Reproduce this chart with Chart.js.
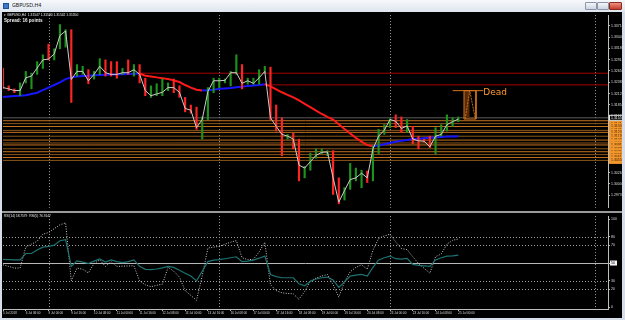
<!DOCTYPE html>
<html>
<head>
<meta charset="utf-8">
<title>GBPUSD,H4</title>
<script src="https://cdn.jsdelivr.net/npm/chart.js@4.4.1/dist/chart.umd.min.js"></script>
<style>
  body { margin:0; width:625px; height:320px; overflow:hidden; background:#d6dde8; position:relative; font-family:"DejaVu Sans", sans-serif; }
  #titlebar { position:absolute; left:0; top:0; width:625px; height:12px; background:linear-gradient(#f6f8fb,#dfe5ee); }
  #titlebar .icon { position:absolute; left:3px; top:3px; width:6px; height:6px; background:#3d78c8; border:1px solid #1f4f96; box-sizing:border-box; }
  #titlebar .name { position:absolute; left:12px; top:2px; font-size:10px; color:#202020; transform:scale(0.5); transform-origin:0 0; white-space:nowrap; }
  .btn { position:absolute; top:2px; height:8px; border:1px solid #8a96a8; box-sizing:border-box; background:linear-gradient(#f4f6f9,#cdd5e0); border-radius:1px; }
  #b1 { left:585px; width:12px; }
  #b2 { left:597px; width:12px; }
  #b3 { left:609px; width:13px; background:linear-gradient(#ee9282,#c43c2c); border-color:#8a2a20; }
  #main { position:absolute; left:2px; top:12px; width:620px; height:199px; background:#000; }
  #sep { position:absolute; left:2px; top:211px; width:620px; height:2px; background:#9a9a9a; }
  #rsi { position:absolute; left:2px; top:213px; width:620px; height:105px; background:#000; }
</style>
</head>
<body>
<div id="titlebar"><div class="icon"></div><div class="name">GBPUSD,H4</div>
  <div class="btn" id="b1"></div><div class="btn" id="b2"></div><div class="btn" id="b3"></div></div>
<div id="main"><canvas id="priceChart"></canvas></div>
<div id="sep"></div>
<div id="rsi"><canvas id="rsiChart"></canvas></div>
<script>
// H4 bars, 5 Jul 16:00 .. 25 Jul 00:00 (index 0..80)
var timeLabels = ['5 Jul 2018', '6 Jul 08:00', '9 Jul 00:00', '9 Jul 16:00', '10 Jul 08:00', '11 Jul 00:00',
  '11 Jul 16:00', '12 Jul 08:00', '13 Jul 00:00', '13 Jul 16:00', '16 Jul 08:00', '17 Jul 00:00',
  '17 Jul 16:00', '18 Jul 08:00', '19 Jul 00:00', '19 Jul 16:00', '20 Jul 08:00', '23 Jul 00:00',
  '23 Jul 16:00', '24 Jul 08:00', '25 Jul 00:00'];

var opens = [1.3250,1.3228,1.3222,1.3212,1.3240,1.3245,1.3258,1.3274,1.3310,1.3293,
  1.3320,1.3340,1.3358,1.3255,1.3259,1.3264,1.3248,1.3259,1.3278,1.3262,
  1.3262,1.3258,1.3270,1.3258,1.3268,1.3245,1.3204,1.3208,1.3210,1.3220,
  1.3235,1.3226,1.3200,1.3180,1.3175,1.3130,1.3152,1.3217,1.3238,1.3239,
  1.3243,1.3259,1.3261,1.3236,1.3235,1.3236,1.3261,1.3264,1.3155,1.3135,
  1.3108,1.3112,1.3104,1.3020,1.3037,1.3062,1.3072,1.3070,1.3075,1.3012,
  1.2965,1.2988,1.3010,1.3012,1.3025,1.3014,1.3082,1.3118,1.3133,1.3152,
  1.3148,1.3130,1.3134,1.3106,1.3103,1.3101,1.3088,1.3113,1.3125,1.3138,
  1.3147];
var highs = [1.3272,1.3230,1.3223,1.3237,1.3264,1.3260,1.3287,1.3303,1.3328,1.3317,
  1.3374,1.3362,1.3362,1.3280,1.3276,1.3268,1.3264,1.3294,1.3291,1.3287,
  1.3287,1.3271,1.3291,1.3280,1.3280,1.3248,1.3230,1.3235,1.3246,1.3237,
  1.3246,1.3230,1.3203,1.3185,1.3180,1.3157,1.3226,1.3248,1.3248,1.3246,
  1.3264,1.3303,1.3280,1.3248,1.3248,1.3268,1.3276,1.3274,1.3185,1.3155,
  1.3116,1.3119,1.3105,1.3041,1.3072,1.3082,1.3082,1.3078,1.3078,1.3014,
  1.2991,1.3048,1.3037,1.3032,1.3030,1.3089,1.3128,1.3139,1.3153,1.3162,
  1.3157,1.3151,1.3135,1.3112,1.3105,1.3112,1.3132,1.3139,1.3162,1.3155,
  1.3157];
var lows = [1.3224,1.3219,1.3214,1.3207,1.3237,1.3223,1.3257,1.3271,1.3291,1.3291,
  1.3317,1.3321,1.3191,1.3253,1.3257,1.3235,1.3246,1.3257,1.3253,1.3253,
  1.3248,1.3257,1.3257,1.3253,1.3237,1.3207,1.3203,1.3207,1.3207,1.3219,
  1.3214,1.3203,1.3169,1.3166,1.3128,1.3105,1.3151,1.3214,1.3226,1.3237,
  1.3230,1.3257,1.3223,1.3234,1.3234,1.3234,1.3260,1.3151,1.3124,1.3066,
  1.3105,1.3082,1.3007,1.3014,1.3032,1.3060,1.3071,1.3066,1.2975,1.2953,
  1.2962,1.2987,1.3007,1.2991,1.3003,1.3007,1.3071,1.3116,1.3132,1.3132,
  1.3121,1.3121,1.3094,1.3082,1.3098,1.3085,1.3071,1.3112,1.3124,1.3135,
  1.3146];
var closes = [1.3226,1.3223,1.3219,1.3219,1.3249,1.3253,1.3272,1.3291,1.3293,1.3305,
  1.3348,1.3359,1.3245,1.3264,1.3264,1.3242,1.3257,1.3276,1.3261,1.3257,
  1.3257,1.3261,1.3261,1.3268,1.3257,1.3219,1.3207,1.3211,1.3215,1.3226,
  1.3226,1.3215,1.3177,1.3173,1.3132,1.3151,1.3217,1.3242,1.3242,1.3243,
  1.3261,1.3261,1.3236,1.3242,1.3236,1.3249,1.3264,1.3155,1.3135,1.3116,
  1.3112,1.3105,1.3044,1.3037,1.3052,1.3067,1.3074,1.3075,1.3014,1.2957,
  1.2984,1.3010,1.3014,1.3025,1.3014,1.3082,1.3112,1.3126,1.3151,1.3147,
  1.3130,1.3136,1.3105,1.3101,1.3100,1.3087,1.3112,1.3116,1.3139,1.3146,
  1.3152];
var maValues = [1.3204,1.3205,1.3206,1.3207,1.3208,1.3211,1.3214,1.3220,1.3226,1.3232,
  1.3238,1.3246,1.3250,1.3252,1.3253,1.3254,1.3255,1.32555,1.3256,1.32565,
  1.3257,1.32575,1.3258,1.32585,1.3259,1.3254,1.3252,1.3250,1.3248,1.3246,
  1.3243,1.3239,1.3232,1.3226,1.3221,1.3219,1.3220,1.3221,1.3223,1.3224,
  1.3225,1.3227,1.3228,1.3230,1.3231,1.3232,1.3234,1.3229,1.3222,1.3215,
  1.3209,1.3203,1.3196,1.3188,1.3180,1.3172,1.3164,1.3157,1.3151,1.3140,
  1.3129,1.3118,1.3108,1.3099,1.3091,1.3088,1.3090,1.3093,1.3096,1.3099,
  1.3101,1.3103,1.3105,1.3106,1.3107,1.3108,1.3109,1.3110,1.3111,1.3111,
  1.3112];
var rsiSlow = [54.2,53.8,53.5,53.5,60.8,60.8,64.8,68.1,68.9,70.3,
  75.3,76.6,46.2,52.4,51.1,49.5,52.2,54.6,51.1,53.5,
  51.6,50.5,51.6,53.5,46.2,42.9,42.5,43.2,44.5,46.2,
  45.1,41.8,38.5,35.2,29.7,40.7,51.6,53.3,53.8,54.9,
  56.0,57.1,51.6,52.2,53.3,55.5,57.9,37.0,34.6,33.3,
  33.3,33.3,26.4,24.2,29.1,31.9,33.3,34.1,30.8,22.3,
  28.6,35.2,36.3,37.0,35.2,45.1,53.5,56.0,57.9,54.9,
  54.4,55.3,48.4,47.3,46.7,46.2,53.5,56.0,57.9,58.2,
  59.0];
var rsiFast = [48.0,46.2,44.3,44.3,68.1,71.4,74.7,82.7,84.6,89.0,
  93.4,95.6,29.7,44.3,42.9,38.8,49.5,53.5,46.2,51.6,
  46.2,46.4,46.7,46.9,29.7,25.3,23.1,24.7,26.0,45.1,
  40.7,34.1,18.7,13.2,7.7,35.2,67.0,68.1,68.9,71.4,
  73.6,75.5,56.0,53.8,54.2,62.6,73.6,25.3,18.7,16.2,
  15.4,15.1,8.8,17.6,29.7,33.0,35.2,37.0,25.3,11.3,
  28.6,40.1,45.1,48.0,42.9,64.5,78.0,80.8,82.7,74.0,
  66.5,65.2,57.1,49.5,44.0,38.5,57.1,60.4,71.4,75.8,
  77.3];

var priceTicks = [1.33710,1.33445,1.33180,1.32915,1.32650,1.32385,1.32120,1.31855,
  1.31590,1.31325,1.31060,1.30795,1.30530,1.30265,1.30000,1.29735];
var rsiTicks = [0, 20, 30, 50, 70, 80, 100];
var rsiLevels = [20, 30, 70, 80];
var weekSeps = [8, 38, 68, 104];

var orderLevels = [1.31482,1.31414,1.31346,1.31255,1.31209,1.31118,1.31027,
  1.30959,1.30913,1.30823,1.30754,1.30686,1.30618,1.30550];
var bidPrice = 1.31550;
var redLevels = [1.32597, 1.32324];
var redLevelStarts = [23.8, 45.4];

// "Dead" object, in bar index / price units
var deadTop = 1.32188, deadBottom = 1.31521;
var deadBox = [81.0, 83.1];
var deadShade = [81.0, 82.0];
var deadZig = [81.2, 82.0, 83.0];
var deadLine = [79.0, 84.4];

var xMax = 106.3;
var tickFont = { family: 'Liberation Sans', size: 3.5 };

function pts(arr) { return arr.map(function (v, i) { return { x: i, y: v }; }); }
function hline(y, x0, x1) { return [{ x: x0, y: y }, { x: x1, y: y }]; }

var weekSepPlugin = {
  id: 'weekSeps',
  beforeDatasetsDraw: function (chart) {
    var ctx = chart.ctx, a = chart.chartArea, x = chart.scales.x;
    ctx.save();
    ctx.strokeStyle = '#a0a0a0';
    ctx.lineWidth = 1;
    ctx.setLineDash([1, 2]);
    weekSeps.forEach(function (v) {
      var px = Math.round(x.getPixelForValue(v)) + 0.5;
      ctx.beginPath(); ctx.moveTo(px, a.top); ctx.lineTo(px, a.bottom); ctx.stroke();
    });
    ctx.restore();
  }
};

var mainDeco = {
  id: 'mainDeco',
  afterDraw: function (chart) {
    var ctx = chart.ctx, a = chart.chartArea, x = chart.scales.x, y = chart.scales.y;
    ctx.save();
    ctx.textAlign = 'left';
    ctx.textBaseline = 'middle';
    ctx.font = '3.5px "Liberation Sans"';
    orderLevels.forEach(function (p) {
      var py = y.getPixelForValue(p);
      ctx.fillStyle = '#f2972c';
      ctx.fillRect(a.right + 1, py - 3.5, 15, 7);
      ctx.fillStyle = '#3a1c00';
      ctx.fillText(p.toFixed(5), a.right + 3, py);
    });
    var by = y.getPixelForValue(bidPrice);
    ctx.fillStyle = '#000';
    ctx.fillRect(a.right + 1, by - 3, 15, 6);
    ctx.strokeStyle = '#e6e6e6';
    ctx.lineWidth = 1;
    ctx.strokeRect(a.right + 1.5, by - 2.5, 14, 5);
    ctx.fillStyle = '#fff';
    ctx.fillText(bidPrice.toFixed(5), a.right + 3, by);

    ctx.font = '9px "DejaVu Sans"';
    ctx.fillStyle = '#ff9a2e';
    ctx.fillText('Dead', x.getPixelForValue(deadLine[1]), y.getPixelForValue(deadTop) + 2);

    ctx.fillStyle = '#f0f0f0';
    ctx.textBaseline = 'top';
    ctx.font = '3.3px "Liberation Sans"';
    ctx.fillText('\u25BE GBPUSD,H4  1.31547 1.31580 1.31542 1.31550', a.left + 1, 1);
    ctx.font = 'bold 4.6px "Liberation Sans"';
    ctx.fillText('Spread: 16 points', a.left + 1, 6);
    ctx.restore();
  }
};

var rsiDeco = {
  id: 'rsiDeco',
  beforeDatasetsDraw: function (chart) {
    var ctx = chart.ctx, a = chart.chartArea, y = chart.scales.y;
    ctx.save();
    ctx.lineWidth = 1;
    ctx.strokeStyle = '#a0a0a0';
    ctx.setLineDash([1, 2]);
    rsiLevels.forEach(function (v) {
      var py = Math.round(y.getPixelForValue(v)) + 0.5;
      ctx.beginPath(); ctx.moveTo(a.left, py); ctx.lineTo(a.right, py); ctx.stroke();
    });
    ctx.setLineDash([]);
    ctx.strokeStyle = '#b8b8b8';
    var p50 = Math.round(y.getPixelForValue(50)) + 0.5;
    ctx.beginPath(); ctx.moveTo(a.left, p50); ctx.lineTo(a.right, p50); ctx.stroke();
    ctx.restore();
  },
  afterDraw: function (chart) {
    var ctx = chart.ctx, a = chart.chartArea, y = chart.scales.y;
    ctx.save();
    var p50 = y.getPixelForValue(50);
    ctx.fillStyle = '#f4f4f4';
    ctx.fillRect(a.right + 2, p50 - 2.5, 7, 5);
    ctx.fillStyle = '#000';
    ctx.font = '3.5px "Liberation Sans"';
    ctx.textBaseline = 'middle';
    ctx.fillText('50', a.right + 3, p50);
    ctx.fillStyle = '#e8e8e8';
    ctx.textBaseline = 'top';
    ctx.font = '3.2px "Liberation Sans"';
    ctx.fillText('RSI(14) 58.7579  RSI(5) 76.9147', a.left + 1, 2);
    ctx.restore();
  }
};

var mainSets = [];
orderLevels.forEach(function (p, k) {
  mainSets.push({ type: 'line', data: hline(p, 0, xMax), borderColor: k % 2 ? '#8a561a' : '#c2711f',
    borderWidth: 1, pointRadius: 0, order: 10 });
});
mainSets.push({ type: 'line', data: hline(bidPrice, 0, xMax), borderColor: '#5c5c5c', borderWidth: 1, pointRadius: 0, order: 9 });
redLevels.forEach(function (p, k) {
  mainSets.push({ type: 'line', data: hline(p, redLevelStarts[k], xMax), borderColor: '#a80000',
    borderWidth: 1, pointRadius: 0, order: 9 });
});
mainSets.push({
  type: 'line', data: pts(maValues), borderWidth: 2, pointRadius: 0, order: 5, borderColor: '#1616ff',
  segment: { borderColor: function (s) { return s.p1.parsed.y >= s.p0.parsed.y ? '#1616ff' : '#ff1a1a'; } }
});
mainSets.push({
  type: 'bar', order: 3, barThickness: 1.5, borderWidth: 0,
  data: closes.map(function (c, i) { return { x: i, y: [lows[i], highs[i]] }; }),
  backgroundColor: closes.map(function (c, i) { return c >= opens[i] ? '#1d921d' : '#ff2424'; })
});
mainSets.push({ type: 'line', data: pts(closes), borderColor: '#cdcdcd', borderWidth: 1, pointRadius: 0, order: 2 });
mainSets.push({ type: 'line', data: hline(deadTop, deadShade[0], deadShade[1]), borderWidth: 0, pointRadius: 0,
  fill: { value: deadBottom }, backgroundColor: '#5a2a08', order: 1 });
mainSets.push({ type: 'line', data: hline(deadTop, deadLine[0], deadLine[1]), borderColor: '#d2741c', borderWidth: 1, pointRadius: 0, order: 0 });
mainSets.push({ type: 'line', pointRadius: 0, borderColor: '#d2741c', borderWidth: 1, order: 0,
  data: [{ x: deadBox[0], y: deadTop }, { x: deadBox[1], y: deadTop }, { x: deadBox[1], y: deadBottom },
         { x: deadBox[0], y: deadBottom }, { x: deadBox[0], y: deadTop }] });
mainSets.push({ type: 'line', pointRadius: 0, borderColor: '#c8701c', borderWidth: 1, borderDash: [2, 1], order: 0,
  data: [{ x: deadZig[0], y: deadBottom }, { x: deadZig[1], y: deadTop }, { x: deadZig[2], y: deadBottom }] });

var priceChart = new Chart(document.getElementById('priceChart').getContext('2d'), {
  type: 'line',
  data: { datasets: mainSets },
  options: {
    animation: false, responsive: true, maintainAspectRatio: false, events: [],
    layout: { padding: { left: 1, right: 0, top: 0, bottom: 0 } },
    plugins: { legend: { display: false }, tooltip: { enabled: false } },
    scales: {
      x: { type: 'linear', min: 0, max: xMax, offset: false, display: false },
      y: {
        position: 'right', min: 1.29435, max: 1.33962,
        afterBuildTicks: function (s) { s.ticks = priceTicks.map(function (v) { return { value: v }; }); },
        afterFit: function (s) { s.width = 14; },
        grid: { drawOnChartArea: false, color: '#bdbdbd', tickLength: 2 },
        border: { color: '#bdbdbd' },
        ticks: { color: '#dcdcdc', font: tickFont, padding: 1, autoSkip: false,
          callback: function (v) { return v.toFixed(5); } }
      }
    }
  },
  plugins: [weekSepPlugin, mainDeco]
});

var rsiChart = new Chart(document.getElementById('rsiChart').getContext('2d'), {
  type: 'line',
  data: {
    datasets: [
      { data: pts(rsiSlow), borderColor: '#1e7272', borderWidth: 1.2, pointRadius: 0 },
      { data: pts(rsiFast), borderColor: '#c4c4c4', borderWidth: 1, borderDash: [1, 1.5], pointRadius: 0 }
    ]
  },
  options: {
    animation: false, responsive: true, maintainAspectRatio: false, events: [],
    layout: { padding: { left: 1, right: 0, top: 0, bottom: 0 } },
    plugins: { legend: { display: false }, tooltip: { enabled: false } },
    scales: {
      x: {
        type: 'linear', min: 0, max: xMax, offset: false,
        afterBuildTicks: function (s) { s.ticks = timeLabels.map(function (t, k) { return { value: k * 4 }; }); },
        afterFit: function (s) { s.height = 9; },
        grid: { drawOnChartArea: false, color: '#bdbdbd', tickLength: 2 },
        border: { color: '#bdbdbd' },
        ticks: { color: '#dcdcdc', font: { family: 'Liberation Sans', size: 3 }, maxRotation: 0, autoSkip: false,
          align: 'start', padding: 0, callback: function (v, i) { return timeLabels[i]; } }
      },
      y: {
        position: 'right', min: -2.2, max: 103.3,
        afterBuildTicks: function (s) { s.ticks = rsiTicks.map(function (v) { return { value: v }; }); },
        afterFit: function (s) { s.width = 14; },
        grid: { drawOnChartArea: false, color: '#bdbdbd', tickLength: 2 },
        border: { color: '#bdbdbd' },
        ticks: { color: '#dcdcdc', font: tickFont, padding: 1, autoSkip: false }
      }
    }
  },
  plugins: [weekSepPlugin, rsiDeco]
});
</script>
</body>
</html>
